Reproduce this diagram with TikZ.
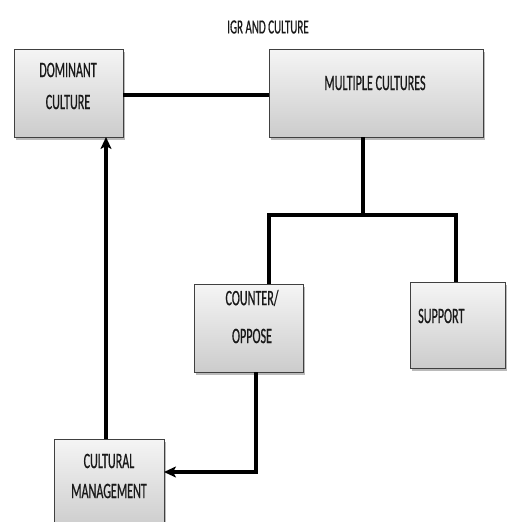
\documentclass[tikz,border=0pt]{standalone}
\usepackage{fontspec}
\setmainfont{Carlito}[FakeStretch=0.55,FakeBold=0.6]
\usetikzlibrary{arrows.meta,shadows}
\begin{document}
\begin{tikzpicture}[x=1pt,y=-1pt,
  box/.style={draw=black!75,line width=0.9pt,top color=gray!8,bottom color=gray!40,
    drop shadow={shadow xshift=2pt,shadow yshift=-3pt,opacity=0.45,fill=black!60},
    inner sep=0pt,outer sep=0pt},
  lbl/.style={text=black!90,font=\fontsize{22}{24}\selectfont,inner sep=0pt},
  thick5/.style={line width=4.7pt},
  tree/.style={line width=4.5pt,line join=miter},
  arr/.style={line width=3.5pt,-{Stealth[length=12pt,width=11pt,inset=3pt]}}]
\useasboundingbox (0,0) rectangle (506,522);
\fill[white] (0,0) rectangle (506,522);
\node[lbl,font=\fontsize{20}{22}\selectfont] (title) at (268,27) {IGR AND CULTURE};
\node[box,minimum width=109pt,minimum height=88pt] (DC) at (68.5,93) {};
\node[box,minimum width=214pt,minimum height=88pt] (MC) at (376,93) {};
\node[box,minimum width=109pt,minimum height=88pt] (CO) at (248.5,328) {};
\node[box,minimum width=95pt,minimum height=86pt] (SU) at (457.5,325) {};
\node[box,minimum width=110pt,minimum height=90pt] (CM) at (109,484) {};
\node[lbl] (dc1) at (68,70) {DOMINANT};
\node[lbl] (dc2) at (68,102) {CULTURE};
\node[lbl] (mc1) at (375,83) {MULTIPLE CULTURES};
\node[lbl] (co1) at (252,298) {COUNTER/};
\node[lbl] (co2) at (252,336) {OPPOSE};
\node[lbl,anchor=west] (su1) at (418,316) {SUPPORT};
\node[lbl] (cm1) at (109,461) {CULTURAL};
\node[lbl] (cm2) at (109,491) {MANAGEMENT};
\coordinate (j) at (363,215);
\draw[thick5] ([yshift=-2pt]DC.east) -- ([yshift=-2pt]MC.west);
\draw[tree] (MC.south -| j) -- (j);
\draw[tree] ([xshift=20.5pt]CO.north) |- (j) -| ([xshift=-1.5pt]SU.north);
\draw[arr] ([xshift=7.5pt]CO.south) |- ([yshift=12pt]CM.east);
\draw[arr] ([xshift=-3pt]CM.north) -- ([xshift=-3pt]CM.north |- DC.south);
\end{tikzpicture}
\end{document}
